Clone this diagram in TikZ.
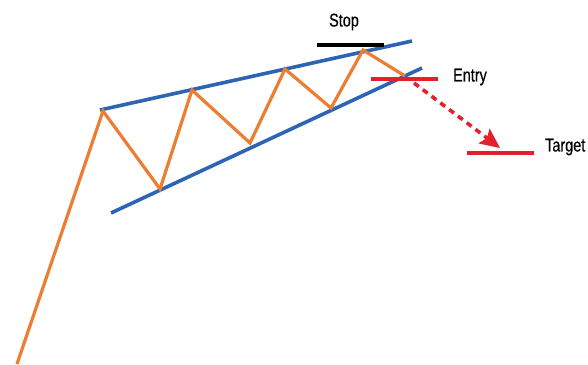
\documentclass[tikz,border=0pt]{standalone}
\usepackage{fontspec}
\setmainfont{Liberation Sans}
\newfontfamily\lblfont[FakeBold=0.6]{Liberation Sans}
\usetikzlibrary{arrows.meta}
\definecolor{orangeL}{RGB}{237,125,49}
\definecolor{blueL}{RGB}{46,100,180}
\definecolor{redL}{RGB}{228,32,44}
\tikzset{
  price/.style={draw=orangeL,line width=3.2pt,line join=miter},
  trend/.style={draw=blueL,line width=3.6pt},
  level/.style={line width=3.6pt},
  lbl/.style={font=\lblfont\fontsize{18.5}{18.5}\selectfont,inner sep=0pt,xscale=0.78}
}
\begin{document}
\begin{tikzpicture}[x=1pt,y=-1pt]
\useasboundingbox (0,0) rectangle (588,364);
% price points
\coordinate (p0) at (17,364);
\coordinate (p1) at (103,111);
\coordinate (p2) at (160,189);
\coordinate (p3) at (192,90);
\coordinate (p4) at (250,143);
\coordinate (p5) at (285,69);
\coordinate (p6) at (331,108);
\coordinate (p7) at (363,50);
\coordinate (p8) at (405,76);
% trend lines
\coordinate (u1) at (100,110);
\coordinate (u2) at (412,41);
\coordinate (l1) at (111,213);
\coordinate (l2) at (422,68);
\draw[trend] (u1) -- (u2);
\draw[trend] (l1) -- (l2);
\draw[price] (p0) -- (p1) -- (p2) -- (p3) -- (p4) -- (p5) -- (p6) -- (p7) -- (p8);
% levels
\coordinate (s1) at (317,45);
\coordinate (s2) at (384,45);
\draw[level,black] (s1) -- (s2);
\coordinate (e1) at (371,79);
\coordinate (e2) at (438,79);
\draw[level,redL] (e1) -- (e2);
\coordinate (t1) at (467,153);
\coordinate (t2) at (534,153);
\draw[level,redL] (t1) -- (t2);
% arrow
\coordinate (a1) at (414,83);
\coordinate (ai) at (487,138);
\coordinate (tip) at (500,148);
\coordinate (hl) at (478.3,143.4);
\coordinate (hr) at (489.6,128.4);
\draw[redL,line width=3.6pt,dash pattern=on 6pt off 5pt] (a1) -- (ai);
\fill[redL] (tip) -- (hl) -- (ai) -- (hr) -- cycle;
% labels
\node[lbl] (stop) at (344,22) {Stop};
\node[lbl,anchor=west] (entry) at (453,77) {Entry};
\node[lbl,anchor=west] (target) at (545,147) {Target};
\end{tikzpicture}
\end{document}
